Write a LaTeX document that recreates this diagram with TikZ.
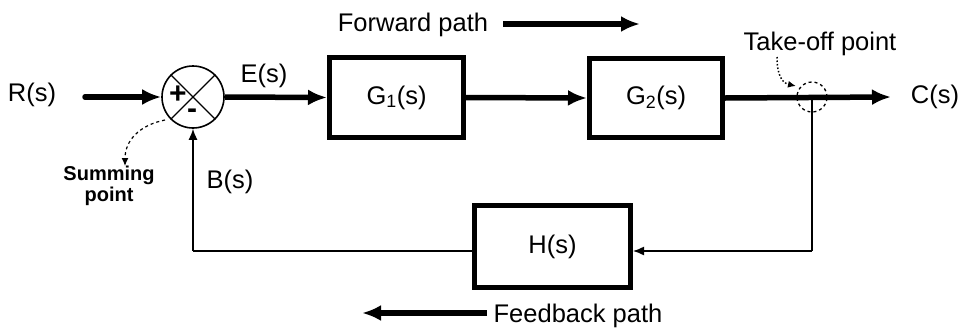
\documentclass[tikz,border=0pt]{standalone}
\usepackage{fontspec}
\setmainfont{Liberation Sans}
\usetikzlibrary{arrows.meta}
\begin{document}
\begin{tikzpicture}[x=1pt,y=-1pt,
  lbl/.style={font=\fontsize{25.5}{28}\selectfont, inner sep=0pt},
  blk/.style={draw, line width=5pt, inner sep=0pt, font=\fontsize{25.5}{28}\selectfont},
  fat/.style={line width=5.5pt, -{Latex[length=19pt,width=16pt]}},
  thinarr/.style={line width=1.4pt, -{Latex[length=11pt,width=9pt]}},
  thinline/.style={line width=1.4pt}
]
\useasboundingbox (0,0) rectangle (962,330);

% summing junction
\node[circle, draw, line width=1.6pt, minimum size=62pt, inner sep=0pt] (sum) at (193,97) {};
\draw[line width=1.4pt] (sum.north west) -- (sum.south east);
\draw[line width=1.4pt] (sum.north east) -- (sum.south west);
\node[lbl, font=\fontsize{30}{30}\selectfont\bfseries] (plus) at (178,95) {+};
\node[lbl, font=\fontsize{30}{30}\selectfont\bfseries] (minus) at (192,114) {-};

% blocks
\node[blk, minimum width=134pt, minimum height=80pt] (G1) at (396.5,97.5) {G\textsubscript{1}(s)};
\node[blk, minimum width=133pt, minimum height=79pt] (G2) at (656,98) {G\textsubscript{2}(s)};
\node[blk, minimum width=156pt, minimum height=82pt] (H) at (552.5,246.5) {H(s)};

% labels
\node[lbl] (R) at (32,95) {R(s)};
\node[lbl] (E) at (264,76) {E(s)};
\node[lbl] (C) at (935,97) {C(s)};
\node[lbl] (B) at (230,182) {B(s)};
\node[lbl] (fwd) at (413,25) {Forward path};
\node[lbl] (fb) at (578,316) {Feedback path};
\node[lbl] (tot) at (820,44) {Take-off point};
\node[inner sep=0pt, align=center, font=\fontsize{20}{21}\selectfont\bfseries] (sp) at (109,186) {Summing\\point};

% coordinates
\coordinate (rin) at (85,97);
\coordinate (tp) at (812,97);
\coordinate (cout) at (891,97);
\coordinate (fr) at (812,251);
\coordinate (fl) at (193,251);
\coordinate (fa1) at (503,24);
\coordinate (fa2) at (640,24);
\coordinate (fb1) at (487,313);
\coordinate (fb2) at (362,313);

% take-off dashed circle
\node[circle, draw, dashed, line width=1.3pt, minimum size=30pt, inner sep=0pt] (tko) at (tp) {};

% forward path
\draw[fat, line cap=round] (rin) -- (sum.west);
\draw[fat] (sum.east) -- (G1.west);
\draw[fat] (G1.east) -- (G2.west);
\draw[fat] (G2.east) -- (cout);

% feedback path
\draw[thinline] (tp) -- (fr);
\draw[thinarr] (fr) -- (H.east |- fr);
\draw[thinline] (H.west |- fl) -- (fl);
\draw[thinarr] (fl) -- (sum.south);

% direction arrows
\draw[fat] (fa1) -- (fa2);
\draw[fat] (fb1) -- (fb2);

% annotation arrows
\draw[dashed, line width=1.2pt, -{Latex[length=8pt,width=7pt]}] (165,120) .. controls (140,125) and (125,140) .. (125,166);
\draw[dotted, line width=1.5pt, -{Latex[length=8pt,width=7pt]}] (777,57) .. controls (777,75) and (782,83) .. (796,86);
\end{tikzpicture}
\end{document}
